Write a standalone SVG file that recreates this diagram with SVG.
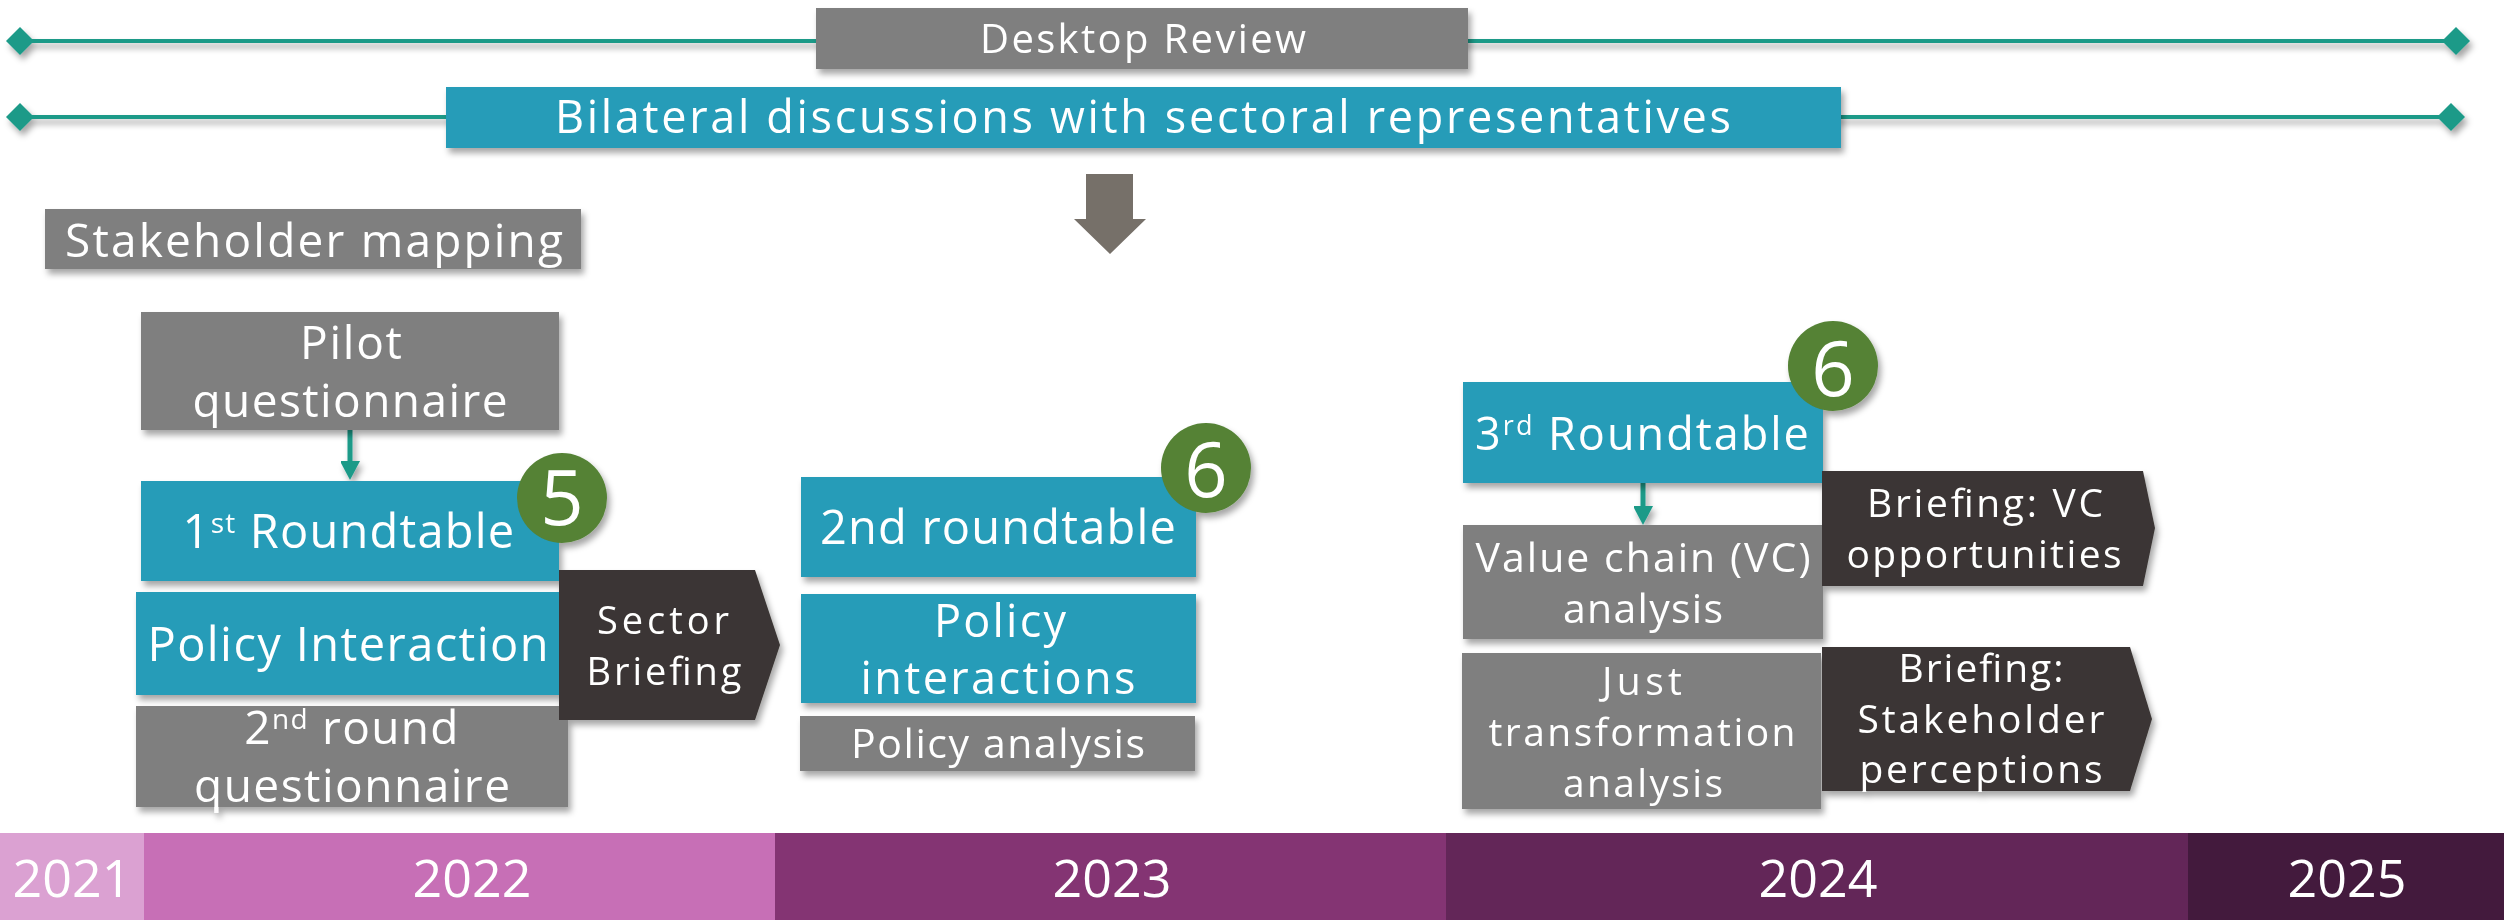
<svg xmlns="http://www.w3.org/2000/svg" width="2504" height="920" viewBox="0 0 2504 920">
<style>
text{font-family:"Open Sans","Noto Sans","DejaVu Sans",sans-serif;fill:#ffffff;text-anchor:middle}
.g{fill:#7f7f7f}
.t{fill:#259cb8}
.d{fill:#3b3634}
.c{fill:#548235}
.yr{font-size:52px}
.num{font-size:76px}
.ln{stroke:#1a9a88;stroke-width:4;fill:none}
.ar{stroke:#1a9a88;stroke-width:5;fill:none}
</style>
<defs>
<filter id="sh" filterUnits="userSpaceOnUse" x="0" y="0" width="2504" height="920">
<feDropShadow dx="3" dy="5" stdDeviation="3" flood-color="#000" flood-opacity="0.35"/>
</filter>
<marker id="dia" markerUnits="userSpaceOnUse" viewBox="0 0 28 28" markerWidth="28" markerHeight="28" refX="14" refY="14" orient="auto">
<path d="M0,14 L14,0 L28,14 L14,28 Z" fill="#1a9a88"/>
</marker>
<marker id="tri" markerUnits="userSpaceOnUse" viewBox="0 0 20 19" markerWidth="20" markerHeight="19" refX="0" refY="10" orient="auto">
<path d="M0,0 L19,10 L0,20 Z" fill="#1a9a88"/>
</marker>
</defs>

<!-- timeline bar -->
<g id="timeline">
<rect x="0" y="833" width="144" height="87" fill="#dba1d2"/>
<rect x="144" y="833" width="631" height="87" fill="#c76fb6"/>
<rect x="775" y="833" width="671" height="87" fill="#843473"/>
<rect x="1446" y="833" width="742" height="87" fill="#632658"/>
<rect x="2188" y="833" width="316" height="87" fill="#431a3d"/>
<text class="yr" x="72" y="897">2021</text>
<text class="yr" x="472" y="897">2022</text>
<text class="yr" x="1112" y="897">2023</text>
<text class="yr" x="1818" y="897">2024</text>
<text class="yr" x="2347" y="897">2025</text>
</g>

<!-- connectors -->
<g id="connectors" filter="url(#sh)">
<line class="ln" x1="20" y1="41" x2="2456" y2="41" marker-start="url(#dia)" marker-end="url(#dia)"/>
<line class="ln" x1="20" y1="117" x2="2451" y2="117" marker-start="url(#dia)" marker-end="url(#dia)"/>
<line class="ar" x1="350" y1="430" x2="350" y2="461" marker-end="url(#tri)"/>
<line class="ar" x1="1643" y1="483" x2="1643" y2="506" marker-end="url(#tri)"/>
</g>

<g id="down-arrow">
<polygon points="1086,174 1133,174 1133,219 1146,219 1110,254 1074,219 1086,219" fill="#767069"/>
</g>

<g filter="url(#sh)">
<g id="desktop-review">
<rect class="g" x="816" y="8" width="652" height="61"/>
<text x="1143" y="53" font-size="40" textLength="326">Desktop Review</text>
</g>
<g id="bilateral">
<rect class="t" x="446" y="87" width="1395" height="61"/>
<text x="1143" y="133" font-size="45" textLength="1176">Bilateral discussions with sectoral representatives</text>
</g>
<g id="stakeholder-mapping">
<rect class="g" x="45" y="209" width="536" height="60"/>
<text x="314" y="257" font-size="46" textLength="498">Stakeholder mapping</text>
</g>

<!-- 2022 -->
<g id="pilot-questionnaire">
<rect class="g" x="141" y="312" width="418" height="118"/>
<text x="351" y="359" font-size="46" textLength="102">Pilot</text>
<text x="350" y="417" font-size="46" textLength="315">questionnaire</text>
</g>
<g id="roundtable-1">
<rect class="t" x="141" y="481" width="418" height="100"/>
<text x="349" y="548" font-size="47" letter-spacing="1.2">1<tspan font-size="28" dy="-15">st</tspan><tspan dy="15"> Roundtable</tspan></text>
</g>
<g id="policy-interaction">
<rect class="t" x="136" y="592" width="423" height="103"/>
<text x="348" y="661" font-size="47" textLength="401">Policy Interaction</text>
</g>
<g id="round2-questionnaire">
<rect class="g" x="136" y="706" width="432" height="101"/>
<text x="352" y="744" font-size="46" letter-spacing="1.3">2<tspan font-size="28" dy="-15">nd</tspan><tspan dy="15"> round</tspan></text>
<text x="352" y="802" font-size="46" textLength="316">questionnaire</text>
</g>
<g id="sector-briefing">
<polygon class="d" points="559,570 755,570 780,645 755,720 559,720"/>
<text x="663" y="634" font-size="38" textLength="132">Sector</text>
<text x="664" y="685" font-size="38" textLength="155">Briefing</text>
</g>
<g id="badge-5">
<circle class="c" cx="562" cy="498" r="45"/>
<text class="num" x="562" y="525">5</text>
</g>

<!-- 2023 -->
<g id="roundtable-2">
<rect class="t" x="801" y="477" width="395" height="100"/>
<text x="998" y="544" font-size="47" textLength="356">2nd roundtable</text>
</g>
<g id="policy-interactions">
<rect class="t" x="801" y="594" width="395" height="109"/>
<text x="1000" y="637" font-size="45" textLength="132">Policy</text>
<text x="998" y="694" font-size="45" textLength="275">interactions</text>
</g>
<g id="policy-analysis">
<rect class="g" x="800" y="716" width="395" height="55"/>
<text x="998" y="758" font-size="41" textLength="294">Policy analysis</text>
</g>
<g id="badge-6a">
<circle class="c" cx="1206" cy="468" r="45"/>
<text class="num" x="1206" y="497">6</text>
</g>

<!-- 2024 -->
<g id="roundtable-3">
<rect class="t" x="1463" y="382" width="360" height="101"/>
<text x="1643" y="450" font-size="45" letter-spacing="2">3<tspan font-size="27" dy="-15">rd</tspan><tspan dy="15"> Roundtable</tspan></text>
</g>
<g id="value-chain">
<rect class="g" x="1463" y="525" width="360" height="114"/>
<text x="1643" y="572" font-size="41" textLength="335">Value chain (VC)</text>
<text x="1643" y="623" font-size="41" textLength="160">analysis</text>
</g>
<g id="just-transformation">
<rect class="g" x="1462" y="653" width="359" height="156"/>
<text x="1642" y="695" font-size="39" textLength="80">Just</text>
<text x="1642" y="746" font-size="39" textLength="307">transformation</text>
<text x="1643" y="797" font-size="39" textLength="160">analysis</text>
</g>
<g id="briefing-vc">
<polygon class="d" points="1822,471 2143,471 2155,528 2143,586 1822,586"/>
<text x="1985" y="517" font-size="39" textLength="236">Briefing: VC</text>
<text x="1984" y="568" font-size="39" textLength="275">opportunities</text>
</g>
<g id="briefing-stakeholder">
<polygon class="d" points="1822,647 2130,647 2152,719 2130,791 1822,791"/>
<text x="1981" y="682" font-size="39" textLength="165">Briefing:</text>
<text x="1981" y="733" font-size="39" textLength="247">Stakeholder</text>
<text x="1981" y="783" font-size="39" textLength="243">perceptions</text>
</g>
<g id="badge-6b">
<circle class="c" cx="1833" cy="366" r="45"/>
<text class="num" x="1833" y="396">6</text>
</g>
</g>
</svg>
